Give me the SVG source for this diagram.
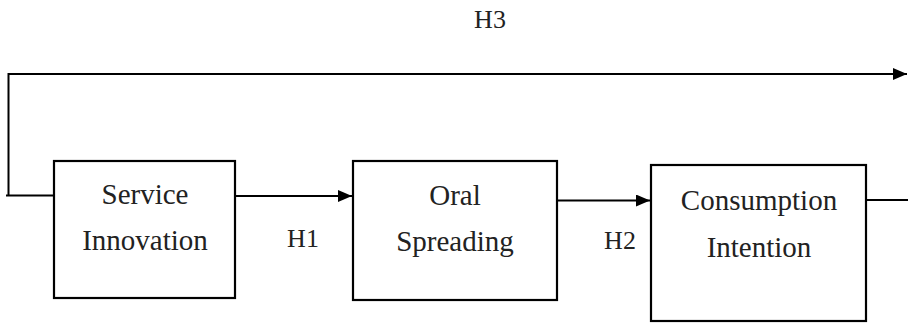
<svg xmlns="http://www.w3.org/2000/svg" width="908" height="323" viewBox="0 0 908 323">
<style>
.box{fill:#fff;stroke:#000;stroke-width:2.2}
.ln{fill:none;stroke:#000;stroke-width:2}
text{font-family:'Liberation Serif','DejaVu Serif',serif;fill:#222;text-anchor:middle}
.t{font-size:29px}
.h{font-size:26px}
</style>
<defs>
<marker id="ah" markerWidth="14" markerHeight="12" refX="14" refY="6" orient="auto" markerUnits="userSpaceOnUse">
<path d="M0,0 L14,6 L0,12 Z" fill="#000"/>
</marker>
</defs>
<g id="connectors">
<path class="ln" d="M6,195.5 H54"/>
<path class="ln" d="M8.5,195.5 V74 H907" marker-end="url(#ah)"/>
<path class="ln" d="M235,196 H352" marker-end="url(#ah)"/>
<path class="ln" d="M557,200.5 H650" marker-end="url(#ah)"/>
<path class="ln" d="M866,200 H908"/>
<text class="h" x="490" y="28">H3</text>
<text class="h" x="303" y="247">H1</text>
<text class="h" x="620" y="249">H2</text>
</g>
<g id="service-innovation">
<rect class="box" x="54" y="161" width="181" height="137"/>
<text class="t" x="145" y="204">Service</text>
<text class="t" x="145" y="250">Innovation</text>
</g>
<g id="oral-spreading">
<rect class="box" x="353" y="161" width="204" height="139"/>
<text class="t" x="455" y="205">Oral</text>
<text class="t" x="455" y="251">Spreading</text>
</g>
<g id="consumption-intention">
<rect class="box" x="651" y="165" width="215" height="156"/>
<text class="t" x="759" y="210">Consumption</text>
<text class="t" x="759" y="257">Intention</text>
</g>
</svg>
